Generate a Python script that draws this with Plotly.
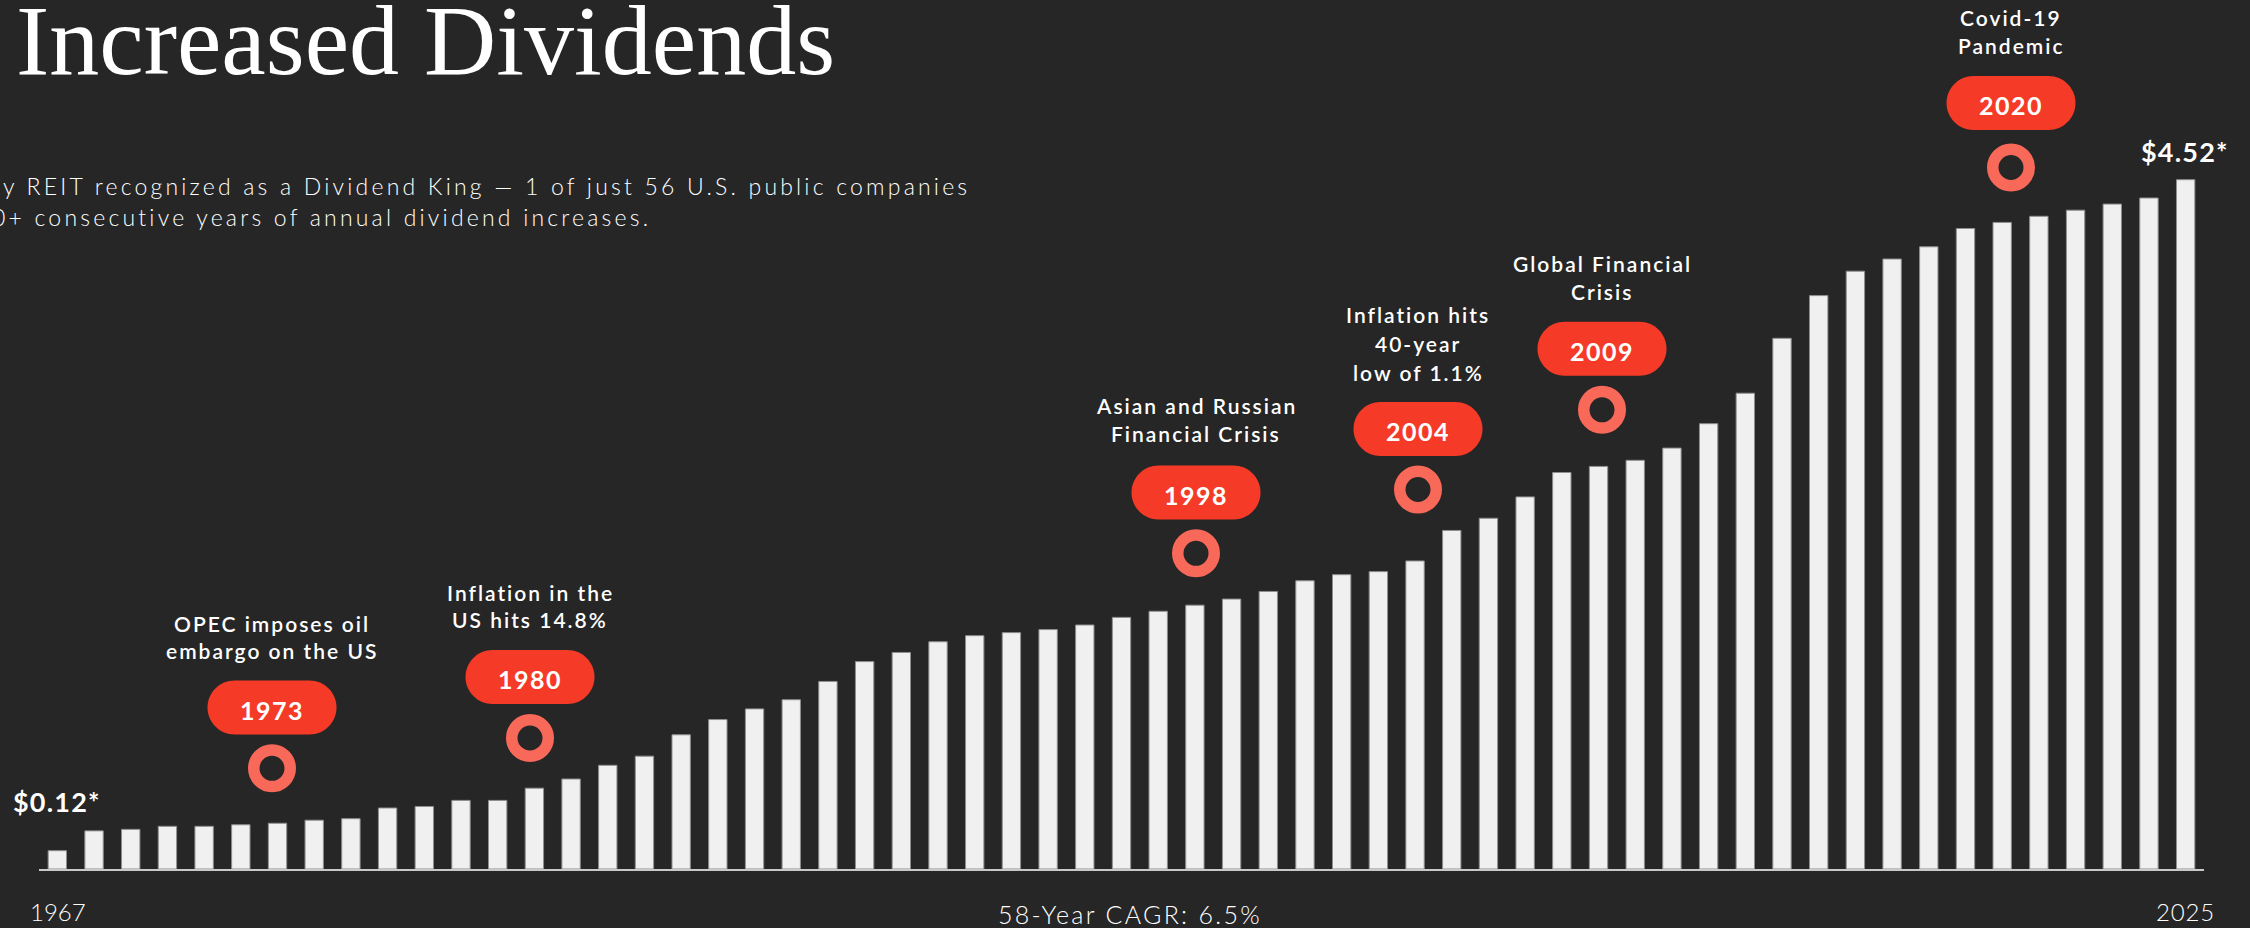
import plotly.graph_objects as go

# ---- data -------------------------------------------------------------
years = list(range(1967, 2026))
dividends = [
    0.12, 0.25, 0.26, 0.28, 0.28, 0.29, 0.30, 0.32, 0.33, 0.40,   # 1967-1976
    0.41, 0.45, 0.45, 0.53, 0.59, 0.68, 0.74, 0.88, 0.98, 1.05,   # 1977-1986
    1.11, 1.23, 1.36, 1.42, 1.49, 1.53, 1.55, 1.57, 1.60, 1.65,   # 1987-1996
    1.69, 1.73, 1.77, 1.82, 1.89, 1.93, 1.95, 2.02, 2.22, 2.30,   # 1997-2006
    2.44, 2.60, 2.64, 2.68, 2.76, 2.92, 3.12, 3.48, 3.76, 3.92,   # 2007-2016
    4.00, 4.08, 4.20, 4.24, 4.28, 4.32, 4.36, 4.40, 4.52,         # 2017-2025
]

start_label = "$0.12*"
end_label = "$4.52*"
first_year_label = "1967"
last_year_label = "2025"
cagr_label = "58-Year CAGR: 6.5%"

event_years = [1973, 1980, 1998, 2004, 2009, 2020]
event_captions = [
    ["OPEC imposes oil", "embargo on the US"],
    ["Inflation in the", "US hits 14.8%"],
    ["Asian and Russian", "Financial Crisis"],
    ["Inflation hits", "40-year", "low of 1.1%"],
    ["Global Financial", "Crisis"],
    ["Covid-19", "Pandemic"],
]

title_text = "Increased Dividends"
subtitle_lines = [
    "y REIT recognized as a Dividend King \u2014 1 of just 56 U.S. public companies",
    "0+ consecutive years of annual dividend increases.",
]

# ---- layout geometry (pixels) ----------------------------------------
W, H = 2250, 928
PLOT_L, PLOT_R, PLOT_T, PLOT_B = 39, 2204, 10, 869
PX_PER_DOLLAR = 152.5
X_MIN, X_MAX = years[0] - 0.5, years[-1] + 0.5

# callout placement: centre x, caption line centres, pill centre, ring centre
event_x_px = [272, 530, 1196, 1418, 1602, 2011]
event_line_y_px = [[623, 650], [592, 620], [405, 433], [315, 344, 373], [263, 291], [17, 45]]
event_pill_y_px = [707.5, 677, 492.5, 429, 348.7, 103]
event_ring_y_px = [768.3, 738, 553.3, 489.5, 409.8, 167.5]

BG = "#262626"
BAR = "#f0f0f0"
BAR_EDGE = "#8f8f8f"
PILL = "#f53b27"
RING = "#f8695a"
WHITE = "#ffffff"

SANS = "Lato"
SERIF = "Liberation Serif"


def xd(px):
    return X_MIN + (px - PLOT_L) * (X_MAX - X_MIN) / (PLOT_R - PLOT_L)


def yd(py):
    return (PLOT_B - py) / PX_PER_DOLLAR


def xp(px):
    return (px - PLOT_L) / (PLOT_R - PLOT_L)


def yp(py):
    return (PLOT_B - py) / (PLOT_B - PLOT_T)


def pill_path(w, h):
    r = h / 2
    a = w / 2 - r
    k = 0.5523 * r
    return (
        f"M {-a},{-r} L {a},{-r} "
        f"C {a + k},{-r} {a + r},{-k} {a + r},0 "
        f"C {a + r},{k} {a + k},{r} {a},{r} "
        f"L {-a},{r} "
        f"C {-a - k},{r} {-a - r},{k} {-a - r},0 "
        f"C {-a - r},{-k} {-a - k},{-r} {-a},{-r} Z"
    )


def spaced(text, px):
    if px:
        return f"<span style='letter-spacing:{px}px'>{text}</span>"
    return text


annotations = []


def add_text(text, px, py, size, weight=400, family=SANS, xanchor="center",
             color=WHITE, spacing=0):
    annotations.append(dict(
        text=spaced(text, spacing), x=xp(px), y=yp(py), xref="paper", yref="paper",
        xanchor=xanchor, yanchor="middle", showarrow=False,
        font=dict(family=family, size=size, color=color, weight=weight),
    ))


fig = go.Figure()

fig.add_trace(go.Bar(
    x=years, y=dividends,
    marker=dict(color=BAR, line=dict(color=BAR_EDGE, width=1)),
    hoverinfo="x+y",
))

# ring markers on the timeline
fig.add_trace(go.Scatter(
    x=[xd(p) for p in event_x_px], y=[yd(p) for p in event_ring_y_px],
    mode="markers", cliponaxis=False, hoverinfo="skip",
    marker=dict(size=36.5, color=BG, line=dict(color=RING, width=11.5)),
))

shapes = []
for yr, cap, px, lines_y, pill_y in zip(event_years, event_captions, event_x_px,
                                         event_line_y_px, event_pill_y_px):
    shapes.append(dict(
        type="path", path=pill_path(129, 54), xref="x", yref="y",
        xsizemode="pixel", ysizemode="pixel",
        xanchor=xd(px), yanchor=yd(pill_y),
        fillcolor=PILL, line=dict(width=0), layer="above",
    ))
    add_text(str(yr), px, pill_y + 2, 25, weight=700, spacing=1.5)
    for line, ly in zip(cap, lines_y):
        add_text(line, px, ly, 21, weight=600, spacing=2.0)

# titles
add_text(title_text, 14, 40.5, 100, weight=400, family=SERIF, xanchor="left")
add_text(subtitle_lines[0], 1, 186, 23, weight=300, xanchor="left", spacing=3.2)
add_text(subtitle_lines[1], -10, 217, 23, weight=300, xanchor="left", spacing=3.2)

# value and axis labels
add_text(start_label, 57, 801, 27, weight=700, spacing=1.2)
add_text(end_label, 2185, 151, 27, weight=700, spacing=1.2)
add_text(first_year_label, 58, 911, 24, weight=300, spacing=0)
add_text(last_year_label, 2185.5, 911, 24, weight=300, spacing=0.8)
add_text(cagr_label, 1130, 914, 25, weight=300, spacing=2.3)

fig.update_layout(
    width=W, height=H,
    margin=dict(l=PLOT_L, r=W - PLOT_R, t=PLOT_T, b=H - PLOT_B, pad=0),
    paper_bgcolor=BG, plot_bgcolor=BG,
    bargap=0.5, showlegend=False,
    shapes=shapes, annotations=annotations,
    xaxis=dict(range=[X_MIN, X_MAX], showgrid=False, zeroline=False,
               showticklabels=False, ticks="", showline=True,
               linecolor="#c9c9c9", linewidth=2, fixedrange=True),
    yaxis=dict(range=[0, (PLOT_B - PLOT_T) / PX_PER_DOLLAR], visible=False,
               showgrid=False, zeroline=False, fixedrange=True),
)

fig.write_html("out.html", config={"displayModeBar": False})
